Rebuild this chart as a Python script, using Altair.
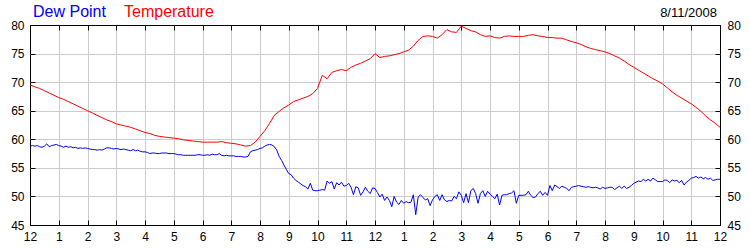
import altair as alt
import pandas as pd

series_names = ["Dew Point", "Temperature"]
series_colors = ["#0000ff", "#ff0000"]
date_label = "8/11/2008"

hour_ticks = list(range(0, 1441, 60))
hour_labels = ["12", "1", "2", "3", "4", "5", "6", "7", "8", "9", "10", "11",
               "12", "1", "2", "3", "4", "5", "6", "7", "8", "9", "10", "11", "12"]
y_ticks = [45, 50, 55, 60, 65, 70, 75, 80]

# Temperature every 10 minutes, 12am .. 12am
temperature = [
    69.5, 69.2, 68.9, 68.5, 68.1, 67.7,
    67.3, 67.0, 66.6, 66.2, 65.8, 65.4,
    65.0, 64.6, 64.2, 63.8, 63.4, 63.1,
    62.7, 62.5, 62.3, 62.1, 61.8, 61.5,
    61.2, 61.0, 60.7, 60.5, 60.4, 60.3,
    60.2, 60.1, 59.9, 59.8, 59.7, 59.6,
    59.5, 59.5, 59.5, 59.5, 59.6, 59.4,
    59.3, 59.2, 59.0, 58.8, 58.9, 59.5,
    60.5, 61.5, 62.8, 64.2, 64.9, 65.5,
    66.0, 66.6, 66.9, 67.2, 67.5, 68.0,
    68.9, 71.2, 70.6, 71.7, 72.0, 72.2,
    72.0, 72.6, 73.0, 73.3, 73.7, 74.1,
    75.0, 74.3, 74.5, 74.6, 74.8, 75.0,
    75.3, 75.6, 76.3, 77.3, 78.0, 78.1,
    78.0, 77.7, 78.3, 79.2, 78.8, 78.7,
    79.8, 79.4, 79.0, 78.8, 78.3, 78.0,
    78.1, 77.8, 77.7, 78.0, 78.1, 78.0,
    78.0, 78.0, 78.2, 78.3, 78.1, 78.0,
    77.8, 77.8, 77.7, 77.7, 77.4, 77.1,
    76.9, 76.6, 76.2, 75.9, 75.7, 75.5,
    75.3, 75.0, 74.6, 74.2, 73.7, 73.1,
    72.6, 72.1, 71.6, 71.1, 70.6, 70.2,
    69.7, 69.0, 68.3, 67.7, 67.2, 66.7,
    66.2, 65.6, 64.9, 64.1, 63.4, 62.8,
    62.1,
]

# Dew point every 5 minutes, 12am .. 12am (one row per hour)
dew_point = [
    58.8, 58.9, 58.8, 58.9, 58.7, 58.6, 58.8, 59.2, 58.7, 58.9, 59.0, 59.1,
    58.9, 58.8, 58.6, 58.8, 58.6, 58.7, 58.5, 58.6, 58.4, 58.5, 58.4, 58.5,
    58.4, 58.3, 58.2, 58.2, 58.1, 58.2, 58.1, 58.3, 58.5, 58.5, 58.4, 58.3,
    58.4, 58.3, 58.2, 58.3, 58.2, 58.1, 58.0, 58.2, 58.0, 58.1, 57.9, 57.8,
    57.8, 57.7, 57.5, 57.6, 57.6, 57.5, 57.5, 57.6, 57.6, 57.6, 57.5, 57.5,
    57.5, 57.4, 57.3, 57.3, 57.2, 57.2, 57.2, 57.2, 57.2, 57.2, 57.3, 57.3,
    57.2, 57.2, 57.3, 57.2, 57.4, 57.3, 57.3, 57.5, 57.2, 57.1, 57.2, 57.1,
    57.1, 57.1, 57.0, 57.0, 57.0, 56.9, 56.9, 57.0, 57.8, 58.0, 58.1, 58.2,
    58.4, 58.5, 58.8, 59.0, 59.1, 59.0, 58.7, 58.1, 57.0, 56.3, 55.5, 54.7,
    54.0, 53.8, 53.2, 52.8, 52.5, 52.2, 51.9, 51.7, 51.3, 52.3, 51.1, 51.0,
    51.0, 51.1, 51.2, 51.1, 52.7, 52.3, 52.6, 51.3, 52.4, 52.0, 52.5, 51.8,
    51.9, 52.3, 51.6, 50.3, 51.7, 51.5, 50.2, 50.8, 51.6, 50.9, 50.5, 51.5,
    51.4, 50.7, 49.9, 50.4, 49.3, 49.9, 49.3, 48.2, 50.0, 49.0, 48.6, 49.3,
    48.8, 49.1, 48.9, 49.0, 50.3, 46.8, 49.9, 50.3, 49.8, 49.4, 49.6, 48.4,
    49.4, 50.0, 50.3, 49.3, 50.3, 49.4, 49.1, 49.3, 49.2, 50.0, 49.6, 50.8,
    50.2, 48.9, 50.5, 48.9, 51.0, 51.4, 50.5, 48.8, 50.5, 51.0, 50.0, 50.9,
    50.4, 50.0, 49.6, 50.4, 48.5, 50.2, 50.3, 50.3, 50.5, 50.6, 51.0, 48.8,
    50.2, 50.2, 50.2, 50.3, 50.9, 50.2, 49.8, 49.9, 50.5, 50.9, 50.2, 50.7,
    50.2, 51.9, 51.0, 52.0, 51.7, 51.4, 51.8, 51.6, 51.4, 51.0, 51.6, 51.7,
    51.8, 51.9, 51.8, 51.7, 51.6, 51.7, 51.6, 51.5, 51.6, 51.5, 51.3, 51.6,
    51.4, 51.5, 51.6, 51.6, 51.2, 51.5, 51.8, 51.4, 51.8, 51.4, 51.6, 51.9,
    52.3, 52.5, 52.7, 52.6, 53.0, 52.7, 53.0, 52.7, 53.2, 52.9, 52.6, 52.6,
    52.6, 52.9, 52.8, 52.4, 52.9, 52.7, 52.8, 52.4, 52.8, 52.0, 52.5, 52.8,
    53.2, 53.3, 53.5, 53.2, 53.4, 53.1, 53.3, 53.0, 53.2, 52.8, 52.9, 53.0,
    53.0,
]

temp_df = pd.DataFrame({"minute": list(range(0, 1441, 10)), "value": temperature})
dew_df = pd.DataFrame({"minute": list(range(0, 1441, 5)), "value": dew_point})

FONT = "Liberation Sans"
label_expr = "[" + ",".join("'%s'" % s for s in hour_labels) + "][round(datum.value / 60)]"
x_scale = alt.Scale(domain=[0, 1440], nice=False, zero=False)
y_scale = alt.Scale(domain=[45, 80], nice=False, zero=False)

x_grid_color = {"condition": {"test": "datum.value == 0 || datum.value == 1440", "value": "black"},
                "value": "#cccccc"}
y_grid_color = {"condition": {"test": "datum.value == 45 || datum.value == 80", "value": "black"},
                "value": "#cccccc"}

temp_line = alt.Chart(temp_df).mark_line(color=series_colors[1], strokeWidth=1).encode(
    x=alt.X("minute:Q", scale=x_scale,
            axis=alt.Axis(orient="bottom", values=hour_ticks, labelExpr=label_expr,
                          tickSize=5, offset=-5, domain=False, grid=True,
                          gridColor=x_grid_color, gridWidth=1, tickColor="black",
                          labelPadding=6, labelFlush=False, labelOverlap=False,
                          labelFont=FONT, labelFontSize=12,
                          labelColor="black", title=None)),
    y=alt.Y("value:Q", scale=y_scale,
            axis=alt.Axis(orient="left", values=y_ticks, tickSize=5, offset=-5,
                          domain=False, grid=True, gridColor=y_grid_color, gridWidth=1,
                          tickColor="black", labelPadding=6, labelFlush=False,
                          labelOverlap=False, labelFont=FONT,
                          labelFontSize=12, labelColor="black", title=None)),
)

dew_line = alt.Chart(dew_df).mark_line(color=series_colors[0], strokeWidth=1).encode(
    x=alt.X("minute:Q", scale=x_scale,
            axis=alt.Axis(orient="top", values=hour_ticks, labels=False, tickSize=5,
                          offset=-5, domain=False, grid=False, tickColor="black",
                          title=None)),
    y=alt.Y("value:Q", scale=y_scale,
            axis=alt.Axis(orient="right", values=y_ticks, tickSize=5, offset=-5,
                          domain=False, grid=False, tickColor="black", labelPadding=7,
                          labelFlush=False, labelOverlap=False,
                          labelFont=FONT, labelFontSize=12, labelColor="black",
                          title=None)),
)

legend_df = pd.DataFrame({"name": series_names})
legend_dew = alt.Chart(legend_df.iloc[[0]]).mark_text(
    font=FONT, fontSize=16, align="left", baseline="alphabetic", color=series_colors[0]
).encode(text="name:N", x=alt.value(3), y=alt.value(-8))
legend_temp = alt.Chart(legend_df.iloc[[1]]).mark_text(
    font=FONT, fontSize=16, align="left", baseline="alphabetic", color=series_colors[1]
).encode(text="name:N", x=alt.value(94), y=alt.value(-8))
date_text = alt.Chart(pd.DataFrame({"d": [date_label]})).mark_text(
    font=FONT, fontSize=13, align="right", baseline="alphabetic", color="black"
).encode(text="d:N", x=alt.value(687), y=alt.value(-8))

chart = alt.layer(temp_line, dew_line, legend_dew, legend_temp, date_text).resolve_scale(
    x="independent", y="independent"
).properties(
    width=690, height=200,
    autosize=alt.AutoSizeParams(type="none"),
    padding={"left": 30, "top": 25, "right": 30, "bottom": 25},
    background="white",
).configure_view(stroke="black", strokeWidth=1)

chart.save("out.html", embed_options={"renderer": "svg", "actions": False})
